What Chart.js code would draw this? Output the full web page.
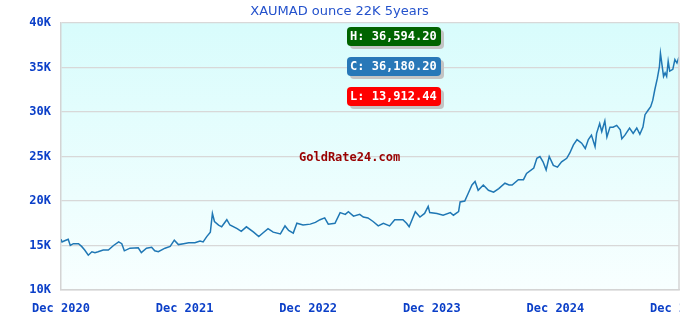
<!DOCTYPE html>
<html>
<head>
<meta charset="utf-8">
<script src="https://cdn.jsdelivr.net/npm/chart.js@4"></script>
<style>
    html, body { margin: 0; padding: 0; background: #ffffff; }
    #wrap { width: 680px; height: 320px; position: relative; }
</style>
</head>
<body>
<div id="wrap"><canvas id="chart"></canvas></div>
<script>
        // Data (months since Dec 2020, price in MAD)
        const months = [
            0, 0.1, 0.3, 0.7, 0.9, 1.2, 1.7, 2.0, 2.3, 2.65, 3.0, 3.3, 3.6, 4.1, 4.6, 5.1, 5.6, 5.9,
            6.15, 6.7, 7.5, 7.8, 8.3, 8.8, 9.1, 9.45, 10.1, 10.6, 11.0, 11.4, 11.9, 12.4, 13.0, 13.5,
            13.8, 14.15, 14.5, 14.7, 14.9, 15.3, 15.6, 16.1, 16.4, 17.1, 17.5, 18.0, 18.7, 19.2, 19.6,
            20.1, 20.6, 21.3, 21.75, 22.1, 22.55, 22.9, 23.5, 24.2, 24.7, 25.15, 25.6, 25.95, 26.6,
            27.1, 27.6, 27.9, 28.4, 29.0, 29.35, 29.8, 30.3, 30.8, 31.3, 31.9, 32.4, 33.2, 33.55,
            33.8, 34.4, 34.85, 35.3, 35.65, 35.8, 36.5, 37.1, 37.8, 38.1, 38.6, 38.75, 39.2, 39.55,
            39.9, 40.2, 40.5, 41.0, 41.5, 42.0, 42.5, 43.1, 43.5, 43.8, 44.4, 44.9, 45.2, 45.9, 46.2,
            46.5, 46.8, 47.1, 47.4, 47.8, 48.2, 48.6, 49.1, 49.4, 49.75, 50.1, 50.55, 50.9, 51.2,
            51.5, 51.85, 52.0, 52.3, 52.5, 52.8, 53.0, 53.3, 53.6, 53.95, 54.3, 54.45, 54.75, 55.2,
            55.55, 55.9, 56.2, 56.5, 56.7, 57.0, 57.25, 57.45, 57.65, 57.9, 58.1, 58.2, 58.35, 58.5,
            58.65, 58.8, 58.95, 59.1, 59.4, 59.6, 59.8, 60
        ];
        const prices = [
            15700, 15400, 15500, 15700, 15000, 15200, 15200, 14900, 14500, 13912, 14300, 14200, 14300, 14500, 14500, 15000, 15400, 15200,
            14400, 14700, 14750, 14200, 14700, 14800, 14400, 14300, 14700, 14900, 15600, 15100, 15200, 15300, 15300, 15500,
            15400, 16000, 16500, 18600, 17700, 17300, 17100, 17900, 17300, 16900, 16600, 17100, 16500, 16000, 16400,
            16900, 16500, 16300, 17200, 16700, 16400, 17500, 17300, 17400, 17600, 17900, 18100, 17400, 17500,
            18700, 18500, 18800, 18300, 18500, 18200, 18100, 17700, 17200, 17500, 17200, 17900, 17900, 17500,
            17100, 18800, 18200, 18600, 19400, 18700, 18600, 18400, 18700, 18400, 18800, 19900, 20000, 20900,
            21800, 22200, 21200, 21800, 21200, 21000, 21400, 22000, 21800, 21800, 22400, 22400, 23100, 23700, 24800,
            25000, 24400, 23500, 25000, 24000, 23800, 24400, 24800, 25400, 26300, 26900, 26500, 25900, 26900,
            27400, 26100, 27600, 28700, 27800, 29000, 27200, 28300, 28300, 28500, 28000, 27000, 27400, 28200,
            27600, 28200, 27500, 28300, 29700, 30200, 30600, 31300, 32500, 33800, 35100, 36594, 35300, 34000,
            34400, 34000, 35700, 34600, 34800, 35900, 35500, 36180
        ];
        const xTickLabels = ['Dec 2020', 'Dec 2021', 'Dec 2022', 'Dec 2023', 'Dec 2024', 'Dec 2025'];
        const yTickValues = [10000, 15000, 20000, 25000, 30000, 35000, 40000];
        const yTickLabels = ['10K', '15K', '20K', '25K', '30K', '35K', '40K'];
        const titleText = 'XAUMAD ounce 22K 5years';
        const badgeLabels = ['H: 36,594.20', 'C: 36,180.20', 'L: 13,912.44'];
        const badgeColors = ['#006400', '#2878b8', '#ff0000'];
        const watermark = 'GoldRate24.com';

        const monoFont = "'DejaVu Sans Mono', monospace";
        const tickColor = '#0b3fc8';

        // Background gradient, frame, badges and watermark
        const decorPlugin = {
            id: 'decor',
            beforeDraw(chart) {
                const { ctx, chartArea: a } = chart;
                const g = ctx.createLinearGradient(0, a.top, 0, a.bottom);
                g.addColorStop(0, '#d8fcfc');
                g.addColorStop(1, '#f8ffff');
                ctx.save();
                ctx.fillStyle = g;
                ctx.fillRect(a.left, a.top, a.right - a.left, a.bottom - a.top);
                ctx.restore();
            },
            afterDatasetsDraw(chart) {
                const { ctx, chartArea: a } = chart;
                ctx.save();
                ctx.strokeStyle = '#d4d4d4';
                ctx.lineWidth = 1.5;
                ctx.beginPath();
                ctx.moveTo(a.right, a.top);
                ctx.lineTo(a.right, a.bottom);
                ctx.stroke();

                // watermark
                ctx.font = 'bold 12px ' + monoFont;
                ctx.fillStyle = '#990000';
                ctx.textAlign = 'left';
                ctx.textBaseline = 'middle';
                ctx.fillText(watermark, 299, 158);

                // H / C / L badges
                const bx = 347, bw = 94, bh = 19;
                const tops = [27, 57, 87];
                badgeLabels.forEach((txt, i) => {
                    const by = tops[i];
                    ctx.fillStyle = '#c4c4c4';
                    ctx.beginPath();
                    ctx.roundRect(bx + 3, by + 3, bw, bh, 4);
                    ctx.fill();
                    ctx.fillStyle = badgeColors[i];
                    ctx.beginPath();
                    ctx.roundRect(bx, by, bw, bh, 4);
                    ctx.fill();
                    ctx.fillStyle = '#ffffff';
                    ctx.fillText(txt, bx + 3, by + bh / 2 + 0.5);
                });
                ctx.restore();
            }
        };

        const ctx = document.getElementById('chart').getContext('2d');
        new Chart(ctx, {
            type: 'line',
            data: {
                datasets: [{
                    data: months.map((m, i) => ({ x: m, y: prices[i] })),
                    borderColor: '#1f77b4',
                    borderWidth: 1.5,
                    pointRadius: 0,
                    tension: 0,
                    fill: false
                }]
            },
            options: {
                responsive: true,
                maintainAspectRatio: false,
                animation: false,
                layout: {
                    autoPadding: false,
                    padding: { top: 0, right: 1, bottom: 0, left: 0 }
                },
                plugins: {
                    legend: { display: false },
                    tooltip: { enabled: false },
                    title: {
                        display: true,
                        text: titleText,
                        color: '#2452cc',
                        font: { family: "'DejaVu Sans', sans-serif", size: 13, weight: 'normal' },
                        padding: { top: 4, bottom: 3.4 }
                    }
                },
                scales: {
                    x: {
                        type: 'linear',
                        min: 0,
                        max: 60,
                        afterFit: (s) => {
                            s.height = 30;
                            s.paddingLeft = 0;
                            s.paddingRight = 0;
                        },
                        afterBuildTicks: (s) => {
                            s.ticks = xTickLabels.map((_, i) => ({ value: i * 12 }));
                        },
                        ticks: {
                            color: tickColor,
                            font: { family: monoFont, size: 12, weight: 'bold' },
                            padding: 12,
                            maxRotation: 0,
                            autoSkip: false,
                            callback: (v, i) => xTickLabels[i]
                        },
                        grid: { display: false, drawTicks: false },
                        border: { display: true, color: '#d4d4d4', width: 1.5 }
                    },
                    y: {
                        min: 10000,
                        max: 40000,
                        afterFit: (s) => {
                            s.width = 61;
                            s.paddingTop = 0;
                            s.paddingBottom = 0;
                        },
                        afterBuildTicks: (s) => {
                            s.ticks = yTickValues.map(v => ({ value: v }));
                        },
                        ticks: {
                            color: tickColor,
                            font: { family: monoFont, size: 12, weight: 'bold' },
                            padding: 10,
                            callback: (v, i) => yTickLabels[i]
                        },
                        grid: { color: '#d8d8d8', lineWidth: 1.2, drawTicks: false },
                        border: { display: true, color: '#d4d4d4', width: 1.5 }
                    }
                }
            },
            plugins: [decorPlugin]
        });
</script>
</body>
</html>
